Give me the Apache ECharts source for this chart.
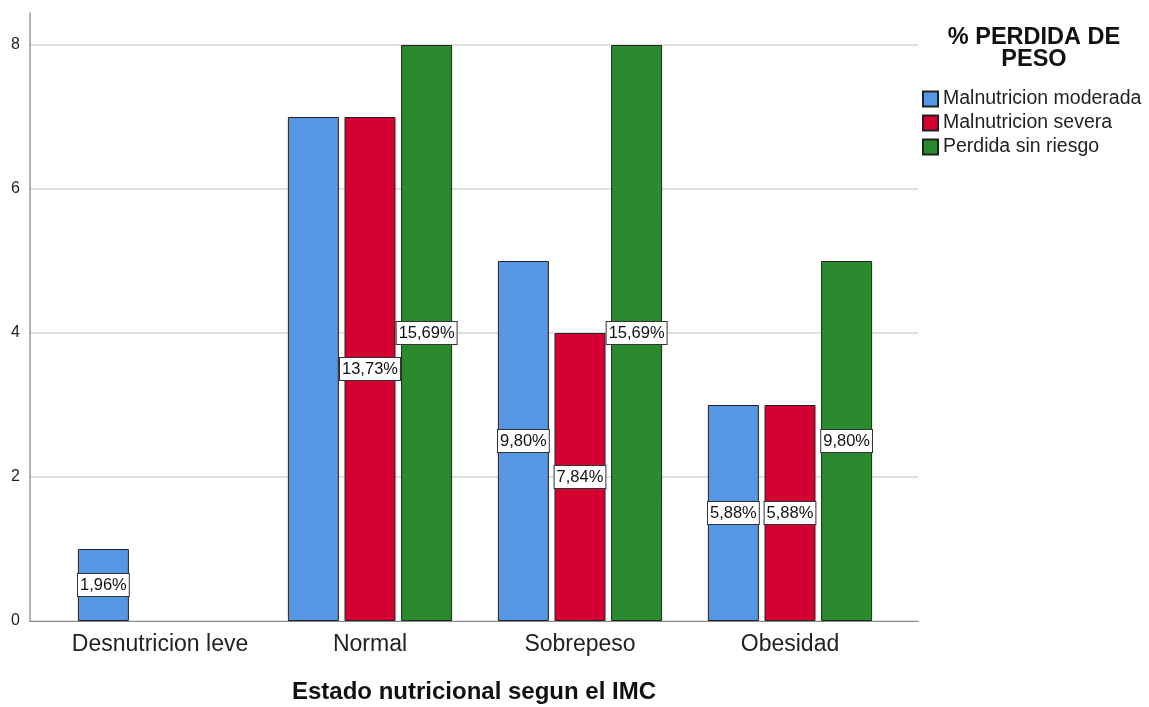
<!DOCTYPE html>
<html>
<head>
<meta charset="utf-8">
<script src="https://cdn.jsdelivr.net/npm/echarts@6/dist/echarts.min.js"></script>
<style>html,body{margin:0;padding:0;background:#fff;}#c{width:1149px;height:707px;}</style>
</head>
<body>
<div id="c"></div>
<script>
var categories = ['Desnutricion leve', 'Normal', 'Sobrepeso', 'Obesidad'];
var seriesNames = ['Malnutricion moderada', 'Malnutricion severa', 'Perdida sin riesgo'];
var moderada = [1, 7, 5, 3];
var severa = [null, 7, 4, 3];
var sinRiesgo = [null, 8, 8, 5];
var moderadaPct = ['1,96%', null, '9,80%', '5,88%'];
var severaPct = [null, '13,73%', '7,84%', '5,88%'];
var sinRiesgoPct = [null, '15,69%', '15,69%', '9,80%'];
var yTicks = [0, 2, 4, 6, 8];
var colors = ['#5597E4', '#D50032', '#2B8A2E'];
var FONT = '"Liberation Sans", Arial, sans-serif';

var chart = echarts.init(document.getElementById('c'), null, {renderer: 'canvas'});

function mkSeries(name, data, pct, color) {
  var items = data.map(function (v, i) {
    return {value: v, label: {show: v != null && pct[i] != null}};
  });
  return {
    name: name, type: 'bar', xAxisIndex: 2, yAxisIndex: 2,
    data: items, barWidth: 51, barGap: '11%',
    itemStyle: {color: color, borderColor: '#222', borderWidth: 1},
    label: {
      position: 'inside',
      formatter: function (p) { return pct[p.dataIndex] || ''; },
      backgroundColor: '#fff', borderColor: '#333', borderWidth: 1,
      padding: [3, 2, 2, 2], color: '#111', fontSize: 16.5, fontFamily: FONT
    },
    emphasis: {disabled: true}
  };
}

chart.setOption({
  animation: false,
  textStyle: {fontFamily: FONT},
  grid: [
    {left: 30, right: 231, top: 45, bottom: 86, outerBoundsMode: 'none'},
    {left: 30, width: 10, top: 13, bottom: 86, outerBoundsMode: 'none'},
    {left: 55, right: 254, top: 45, bottom: 86, outerBoundsMode: 'none'}
  ],
  xAxis: [
    {gridIndex: 0, type: 'value', min: 0, max: 1,
     axisLine: {show: true, lineStyle: {color: '#8a8a8a', width: 1}},
     axisTick: {show: false}, axisLabel: {show: false}, splitLine: {show: false}},
    {gridIndex: 1, type: 'value', min: 0, max: 1, show: false},
    {gridIndex: 2, type: 'category', data: categories,
     axisLine: {show: false}, axisTick: {show: false},
     axisLabel: {interval: 0, hideOverlap: false, fontSize: 23, color: '#222', margin: 12, fontFamily: FONT}}
  ],
  yAxis: [
    {gridIndex: 0, type: 'value', min: 0, max: 8, interval: 2,
     axisLine: {show: false}, axisTick: {show: false},
     axisLabel: {fontSize: 16, color: '#222', margin: 10, fontFamily: FONT,
       formatter: function (v) { return yTicks.indexOf(v) >= 0 ? String(v) : ''; }},
     splitLine: {show: true, lineStyle: {color: '#d4d4d4', width: 1.5}}},
    {gridIndex: 1, type: 'value', min: 0, max: 1,
     axisLine: {show: true, lineStyle: {color: '#9a9a9a', width: 1.5}},
     axisTick: {show: false}, axisLabel: {show: false}, splitLine: {show: false}},
    {gridIndex: 2, type: 'value', min: 0, max: 8, show: false}
  ],
  legend: {
    orient: 'vertical', left: 917, top: 84,
    itemWidth: 15, itemHeight: 15, itemGap: 4,
    icon: 'rect',
    data: seriesNames,
    textStyle: {fontSize: 19.5, color: '#222', fontFamily: FONT},
    selectedMode: false
  },
  graphic: [
    {type: 'text', x: 1034, y: 26,
     style: {text: '% PERDIDA DE\nPESO', fill: '#111', font: 'bold 23.5px ' + FONT,
             textAlign: 'center', lineHeight: 22.5, textVerticalAlign: 'top'}},
    {type: 'text', x: 474, y: 692,
     style: {text: 'Estado nutricional segun el IMC', fill: '#111', font: 'bold 24px ' + FONT,
             textAlign: 'center', textVerticalAlign: 'middle'}}
  ],
  series: [
    mkSeries(seriesNames[0], moderada, moderadaPct, colors[0]),
    mkSeries(seriesNames[1], severa, severaPct, colors[1]),
    mkSeries(seriesNames[2], sinRiesgo, sinRiesgoPct, colors[2])
  ]
});
</script>
</body>
</html>
